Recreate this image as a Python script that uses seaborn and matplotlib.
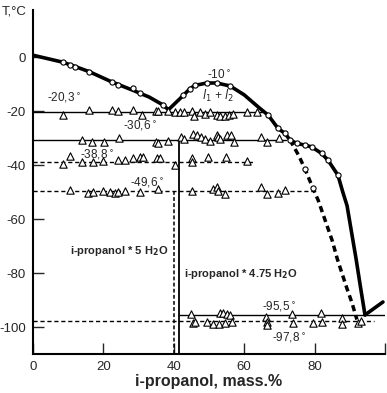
import matplotlib
matplotlib.use("Agg")
import matplotlib.pyplot as plt
import seaborn as sns
import pandas as pd

# liquidus (solid) curve, i-propanol mass.% vs T
liq_x = [0, 8.5, 12, 16, 22.4, 28.4, 33, 36.9, 38.5,
         42.7, 44.6, 46, 49.4, 52.2, 56, 60, 64, 66.8, 69.6, 71.6, 73,
         75, 77.3, 79.2, 82, 83.8, 86.6, 88, 89.2, 90.5, 91.8, 93, 94.3]
liq_y = [0.7, -1.9, -3.5, -5.4, -9.2, -12.3, -14.8, -17.7, -19.5,
         -14.2, -11.7, -10.5, -9.6, -9.6, -10.7, -14, -18.5, -21.5, -26.4, -28.3, -30.7,
         -32, -32.6, -33.3, -35.7, -38.2, -43.7, -50, -55, -65, -75, -85, -95.5]
tail_x = [94.3, 99.4]
tail_y = [-95.5, -90.7]

# metastable (dashed) branch
meta_x = [73, 75.5, 77.3, 79.5, 81, 83, 85, 86.4, 88, 89.2, 90.6, 92]
meta_y = [-30.7, -36.5, -41.6, -48.5, -53, -60.5, -68, -74.6, -81, -85.8, -91, -97.2]

# circles (liquidus measurements)
circ_x = [8.5, 10.5, 12, 16, 22.4, 24.2, 28.5, 30.4, 36.9, 42.7, 44.6, 46, 49.4, 52.2,
          56, 66.8, 69.6, 71.6, 73, 75, 77.3, 79.2, 82, 83.8, 86.6, 77.3, 79.5]
circ_y = [-1.9, -3, -3.6, -5.5, -9.1, -10.3, -11.3, -13.2, -17.7, -14.2, -11.7, -10.5, -9.6, -9.6,
          -10.7, -21.5, -26.4, -28.3, -30.7, -32, -32.6, -33.3, -35.7, -38.2, -43.7, -41.6, -48.5]

# triangles (thermal effects on horizontals)
tri_x = [8.5, 15.9, 22.4, 24.1, 28.4, 31, 34.9, 35.5, 38.4, 40.3, 41.8, 42.9, 45.2, 45.7,
         47.4, 48.9, 50.3, 52.3, 53.1, 54.5, 55.7, 56.8, 60.8, 63.6,
         13.9, 16.8, 20.2, 24.4, 34.9, 35.5, 38.4, 42.1, 42.9, 45.5, 46.6, 47.7, 48.9, 50.3,
         52.3, 52.6, 53.1, 55.1, 56.3, 57.1, 64.8, 66.5, 69.9,
         8.5, 10.5, 13.9, 17, 19.9, 24.1, 26.1, 28.4, 30.4, 31.3, 35.2, 36.1, 40.3, 45.2, 45.2,
         49.7, 54.8, 60.8,
         10.5, 15.6, 17, 19.9, 21.9, 23.3, 24.1, 26.1, 30.4, 35.5, 45.2, 51.1, 52.3, 52.6, 54.5,
         64.8, 66.5, 69.6, 71.6,
         44.9, 53.1, 54, 55.1, 56, 66.2, 73.6, 81.8, 87.8,
         45.5, 46, 49.4, 51.1, 52.8, 54.5, 56.5, 66.5, 66.5, 73.9, 79.5, 82.1, 87.8, 92.4, 93.2]
tri_y = [-21.3, -19.5, -19.5, -20, -19.5, -21.3, -20, -19.8, -20, -20.5, -20.5, -20.5, -19.8, -22,
         -20.5, -21, -20.5, -21.5, -22, -22, -21.5, -21, -20.5, -20.3,
         -30.6, -31.5, -31.5, -30, -31.5, -31.8, -31, -29.5, -30.5, -28.6, -29, -29.5, -30.5, -31,
         -28.8, -29.5, -30.5, -29, -28.8, -31.5, -29.5, -31.5, -30,
         -39.5, -36.6, -38.8, -38.8, -38.5, -38.3, -38.3, -37.3, -37, -37, -37.3, -37.3, -39.8,
         -37.3, -38.8, -37, -37, -38.5,
         -49.2, -50.2, -49.8, -49.6, -49.8, -50.2, -50, -49.6, -50, -48.8, -49.6, -49, -48.2, -49.5,
         -50.8, -48.3, -50.8, -50.2, -49.2,
         -95.2, -94.6, -94.9, -95.1, -95.5, -96.2, -95.1, -94.8, -96.6,
         -98.5, -98.1, -98.1, -98.9, -98.9, -98.5, -98.1, -98.1, -99.2, -98.5, -98.5, -98.1, -98.9,
         -98.5, -97.8]

# invariant horizontals
hl_y = [-20.3, -30.6, -38.8, -49.6, -95.5, -97.8]
hl_from = [0, 0, 0, 0, 41.6, 0]
hl_to = [65, 72, 63, 80, 100, 97]

# compound verticals (5 H2O, 4.75 H2O)
vl_x = [40.0, 41.6]
vl_top = [-49.6, -30.6]

sns.set_theme(style="ticks")
plt.rcParams['font.family'] = ['Liberation Sans', 'DejaVu Sans']
plt.rcParams['axes.unicode_minus'] = False

fig = plt.figure(figsize=(3.87, 3.93), dpi=100)
ax = fig.add_axes([0.085, 0.099, 0.91, 0.876])

dash = (0, (3, 2))
for y, a, b in zip(hl_y, hl_from, hl_to):
    ls = '-' if y in (-20.3, -30.6, -95.5) else dash
    ax.plot([a, b], [y, y], color='black', lw=1.0, ls=ls, zorder=2)

ax.plot([vl_x[0], vl_x[0]], [vl_top[0], -110], color='black', lw=1.1, ls=(0, (2.5, 1.5)), zorder=2)
ax.plot([vl_x[1], vl_x[1]], [vl_top[1], -110], color='black', lw=1.3, zorder=2)

liq = pd.DataFrame({'x': liq_x, 'y': liq_y})
sns.lineplot(data=liq, x='x', y='y', sort=False, color='black', lw=2.6, ax=ax, zorder=3)
sns.lineplot(x=tail_x, y=tail_y, sort=False, color='black', lw=2.6, ax=ax, zorder=3)
meta = pd.DataFrame({'x': meta_x, 'y': meta_y})
sns.lineplot(data=meta, x='x', y='y', sort=False, color='black', lw=2.5,
             ax=ax, zorder=3).lines[-1].set_linestyle((0, (1.8, 1.2)))

sns.scatterplot(x=tri_x, y=tri_y, marker='^', s=28, facecolor='white',
                edgecolor='black', linewidth=0.8, ax=ax, zorder=4)
sns.scatterplot(x=circ_x, y=circ_y, marker='o', s=14, facecolor='white',
                edgecolor='black', linewidth=0.8, ax=ax, zorder=5)

# annotations
fs = 8.5
ax.text(4, -16.3, "-20,3$^\\circ$", fontsize=fs)
ax.text(25.6, -26.8, "-30,6$^\\circ$", fontsize=fs)
ax.text(13.4, -37.5, "-38,8$^\\circ$", fontsize=fs)
ax.text(27.5, -47.8, "-49,6$^\\circ$", fontsize=fs)
ax.text(49.4, -8.3, "-10$^\\circ$", fontsize=fs)
ax.text(48, -16, "$l_1$ + $l_2$", fontsize=fs, style='italic')
ax.text(65, -94, "-95,5$^\\circ$", fontsize=fs)
ax.text(68, -105.5, "-97,8$^\\circ$", fontsize=fs)
ax.text(10.5, -72, "i-propanol * 5 H$_\\mathbf{2}$O", fontsize=8, fontweight='bold', va='center')
ax.text(43.0, -80.5, "i-propanol * 4.75 H$_\\mathbf{2}$O", fontsize=8, fontweight='bold', va='center')

ax.set_xlim(0, 100)
ax.set_ylim(-110, 17.5)
ax.set_xticks([0, 20, 40, 60, 80, 100])
ax.set_xticklabels(['0', '20', '40', '60', '80', ''])
ax.set_yticks([0, -20, -40, -60, -80, -100])
ax.tick_params(direction='in', length=8, width=1, labelsize=9.5, pad=5)
ax.set_xlabel("i-propanol, mass.%", fontsize=11.5, fontweight='bold', labelpad=1)
ax.set_ylabel("")
sns.despine(ax=ax)
for s in ('left', 'bottom'):
    ax.spines[s].set_linewidth(1.5)
    ax.spines[s].set_color('black')
ax.set_facecolor('white')
fig.text(0.005, 0.985, "T,°C", fontsize=9.5, va='top', ha='left')

fig.savefig("out.png", dpi=100)
